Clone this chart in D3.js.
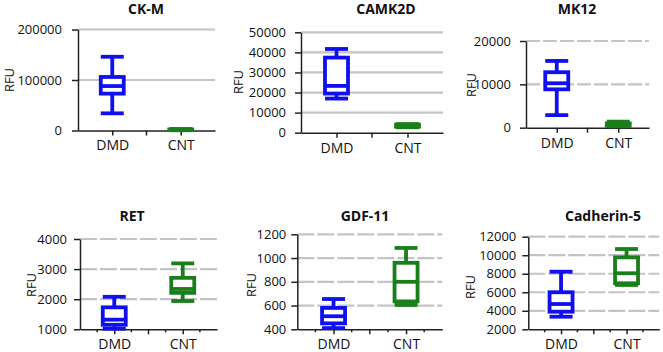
<!DOCTYPE html>
<html><head><meta charset="utf-8">
<script src="https://cdn.jsdelivr.net/npm/d3@7"></script>
<style>
html,body{margin:0;padding:0;background:#fff;}
svg{display:block;}
text{font-family:"Open Sans","Noto Sans",sans-serif;fill:#111;}
</style></head>
<body>
<svg id="chart" width="663" height="352"></svg>
<script>
// ---- data ----
const titles = ["CK-M", "CAMK2D", "MK12", "RET", "GDF-11", "Cadherin-5"];
const categories = ["DMD", "CNT"];
const yLabel = "RFU";
// five-number summaries: [min, Q1, median, Q3, max]
const ckmDMD = [34000, 73000, 88000, 106000, 146000];
const ckmCNT = [500, 1000, 1500, 2000, 3000];
const camk2dDMD = [17000, 19500, 23300, 37400, 41700];
const camk2dCNT = [2700, 3000, 3400, 4000, 4300];
const mk12DMD = [2900, 8850, 10250, 12800, 15400];
const mk12CNT = [300, 450, 650, 1000, 1400];
const retDMD = [1020, 1150, 1320, 1730, 2080];
const retCNT = [1940, 2210, 2340, 2710, 3190];
const gdf11DMD = [410, 450, 510, 580, 655];
const gdf11CNT = [605, 635, 800, 960, 1085];
const cdh5DMD = [3360, 3900, 4730, 6000, 8220];
const cdh5CNT = [6790, 6970, 8050, 9770, 10670];
const ckmTicks = [0, 100000, 200000];
const camk2dTicks = [0, 10000, 20000, 30000, 40000, 50000];
const mk12Ticks = [0, 10000, 20000];
const retTicks = [1000, 2000, 3000, 4000];
const gdf11Ticks = [400, 600, 800, 1000, 1200];
const cdh5Ticks = [2000, 4000, 6000, 8000, 10000, 12000];

const seriesData = [
  [ckmDMD, ckmCNT], [camk2dDMD, camk2dCNT], [mk12DMD, mk12CNT],
  [retDMD, retCNT], [gdf11DMD, gdf11CNT], [cdh5DMD, cdh5CNT]
];
const tickData = [ckmTicks, camk2dTicks, mk12Ticks, retTicks, gdf11Ticks, cdh5Ticks];

// ---- layout (positions only) ----
const layout = [
  {ax: 78,    w: 137, top: 29.5,  bottom: 130.5, tx: 146, ty: 8,   rx: 9,   ry: 80,  pad: 10, dash: null, minor: false},
  {ax: 301,   w: 142, top: 32.3,  bottom: 132.7, tx: 386, ty: 8,   rx: 238, ry: 82,  pad: 9,  dash: null, minor: false},
  {ax: 526,   w: 123, top: 41,    bottom: 127.7, tx: 577, ty: 8,   rx: 471, ry: 85,  pad: 9,  dash: "14,3", minor: false},
  {ax: 80,    w: 137, top: 239,   bottom: 329.3, tx: 132, ty: 215, rx: 31,  ry: 285, pad: 7,  dash: "17,3", minor: true},
  {ax: 297.3, w: 145, top: 234.3, bottom: 329.3, tx: 365, ty: 215, rx: 251, ry: 285, pad: 5,  dash: "17,3", minor: true},
  {ax: 528.3, w: 131, top: 236.7, bottom: 329.3, tx: 603, ty: 215, rx: 470, ry: 287, pad: 6,  dash: "17,3", minor: true}
];
const colors = {DMD: "#0f0ff0", CNT: "#1a7f1a"};
const SW = 3.8, BOXW = 23, CAPW = 23;

const svg = d3.select("#chart");

titles.forEach((title, i) => {
  const L = layout[i];
  const ticks = tickData[i];
  const g = svg.append("g");
  const y = d3.scaleLinear().domain([ticks[0], ticks[ticks.length - 1]]).range([L.bottom, L.top]);
  const x = d3.scalePoint().domain(categories).range([L.ax, L.ax + L.w]).padding(0.5);

  // gridlines
  g.selectAll("line.grid").data(ticks.slice(1)).join("line")
    .attr("x1", L.ax).attr("x2", L.ax + L.w)
    .attr("y1", d => y(d)).attr("y2", d => y(d))
    .attr("stroke", "#c4c4c4").attr("stroke-width", 2.2)
    .attr("stroke-dasharray", L.dash);

  // y axis
  const ya = g.append("g").attr("transform", `translate(${L.ax},0)`)
    .call(d3.axisLeft(y).tickValues(ticks).tickFormat(d3.format("d")).tickSize(6).tickSizeOuter(0).tickPadding(L.pad));
  ya.select(".domain").attr("stroke", "#222").attr("stroke-width", 1.5);
  ya.selectAll(".tick line").attr("stroke", "#222").attr("stroke-width", 1.5);
  ya.selectAll(".tick text").style("font-size", "13px").attr("fill", "#111");

  // x axis
  const xa = g.append("g").attr("transform", `translate(0,${L.bottom})`)
    .call(d3.axisBottom(x).tickSize(5).tickSizeOuter(0).tickPadding(5));
  xa.select(".domain").attr("stroke", "#222").attr("stroke-width", 1.5);
  xa.selectAll(".tick line").attr("stroke", "#222").attr("stroke-width", 1.5);
  xa.selectAll(".tick text").style("font-size", "14px").attr("fill", "#111");
  // mid / minor ticks
  const p0 = x(categories[0]), p1 = x(categories[1]), st = x.step();
  const extra = [(p0 + p1) / 2];
  if (L.minor) extra.push(p0 - st / 4, p0 + st / 4, p1 - st / 4, p1 + st / 4);
  g.selectAll("line.xminor").data(extra).join("line")
    .attr("x1", d => d).attr("x2", d => d)
    .attr("y1", L.bottom).attr("y2", (d, k) => L.bottom + (k === 0 ? 5 : 3))
    .attr("stroke", "#222").attr("stroke-width", 1.5);

  // y label
  g.append("text").attr("transform", `translate(${L.rx},${L.ry}) rotate(-90)`)
    .attr("text-anchor", "middle").attr("dominant-baseline", "central")
    .style("font-size", "13px").text(yLabel);

  // title
  g.append("text").attr("x", L.tx).attr("y", L.ty)
    .attr("text-anchor", "middle").attr("dominant-baseline", "central")
    .style("font-size", "14px").style("font-weight", "bold").text(title);

  // box plots
  categories.forEach((c, j) => {
    const s = seriesData[i][j];
    const cx = x(c), col = colors[c];
    const bg = g.append("g").attr("stroke", col).attr("stroke-width", SW).attr("fill", "none");
    bg.append("line").attr("x1", cx).attr("x2", cx).attr("y1", y(s[0])).attr("y2", y(s[1]));
    bg.append("line").attr("x1", cx).attr("x2", cx).attr("y1", y(s[3])).attr("y2", y(s[4]));
    bg.append("line").attr("x1", cx - CAPW / 2).attr("x2", cx + CAPW / 2).attr("y1", y(s[0])).attr("y2", y(s[0]));
    bg.append("line").attr("x1", cx - CAPW / 2).attr("x2", cx + CAPW / 2).attr("y1", y(s[4])).attr("y2", y(s[4]));
    bg.append("rect").attr("x", cx - BOXW / 2).attr("width", BOXW)
      .attr("y", y(s[3])).attr("height", Math.max(0.01, y(s[1]) - y(s[3])))
      .attr("fill", "#fff");
    bg.append("line").attr("x1", cx - BOXW / 2).attr("x2", cx + BOXW / 2).attr("y1", y(s[2])).attr("y2", y(s[2]));
  });
});
</script>
</body></html>
